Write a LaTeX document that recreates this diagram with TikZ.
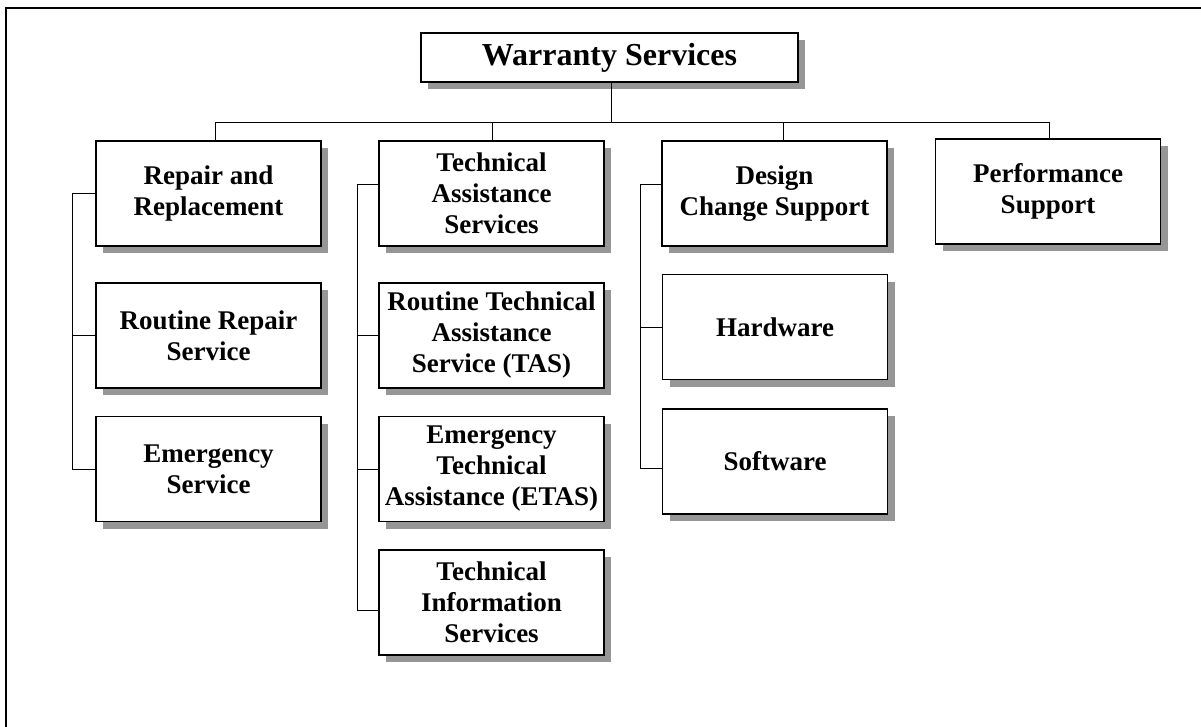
\documentclass[tikz,border=0pt]{standalone}
\usepackage{fontspec}
\setmainfont{Liberation Serif}
\usetikzlibrary{shadows}
\definecolor{shadowgray}{RGB}{150,150,150}

\begin{document}
\begin{tikzpicture}[x=1pt,y=-1pt]
\tikzstyle{svc}=[
	draw, line width=1.3pt, fill=white,
	minimum width=225pt, minimum height=105pt,
	inner sep=0pt, align=center,
	font=\fontsize{27}{31}\selectfont\bfseries,
	drop shadow={shadow xshift=7pt, shadow yshift=-7pt, fill=shadowgray, opacity=1} ]
\tikzstyle{svchead}=[svc, minimum width=377pt, minimum height=49pt,
	font=\fontsize{32}{38}\selectfont\bfseries]
\tikzstyle{link}=[line width=1pt]
\useasboundingbox (0,0) rectangle (1201,727);
\draw[line width=2.5pt] (6,8) rectangle (1202,760);

\node[svchead] (ws) at (609.5,57.5) {Warranty Services};
\node[svc] (rr) at (208.5,193.5) {Repair and\\Replacement};
\node[svc] (tas) at (491.5,193.5) {Technical\\Assistance\\Services};
\node[svc] (dcs) at (774.5,193.5) {Design\\Change Support};
\node[svc] (ps) at (1048,191.5) {Performance\\Support};
\node[svc] (rrs) at (208.5,335.5) {Routine Repair\\Service};
\node[svc] (es) at (208.5,469) {Emergency\\Service};
\node[svc] (rtas) at (491.5,335.5) {Routine Technical\\Assistance\\Service (TAS)};
\node[svc] (etas) at (491.5,469) {Emergency\\Technical\\Assistance (ETAS)};
\node[svc] (tis) at (491.5,602.5) {Technical\\Information\\Services};
\node[svc] (hw) at (775,327) {Hardware};
\node[svc] (sw) at (775,461.5) {Software};

% top level
\draw[link] ([xshift=1.5pt]ws.south) -- ++(0,39.5) coordinate (bus);
\draw[link] ([xshift=6.5pt]rr.north) |- (bus);
\draw[link] ([xshift=0.5pt]tas.north) |- (bus);
\draw[link] ([xshift=8.5pt]dcs.north) |- (bus);
\draw[link] ([xshift=1pt]ps.north) |- (bus);

% side rails
\draw[link] (rr.west) -- ++(-23,0) |- (es.west);
\draw[link] (rrs.west) -- ++(-23,0);
\draw[link] ([yshift=8.5pt]tas.west) -- ++(-21,0) |- ([yshift=-7.5pt]tis.west);
\draw[link] (rtas.west) -- ++(-21,0);
\draw[link] (etas.west) -- ++(-21,0);
\draw[link] ([yshift=8.5pt]dcs.west) -- ++(-21,0) |- ([yshift=-6.5pt]sw.west);
\draw[link] (hw.west) -- ++(-21,0);
\end{tikzpicture}
\end{document}
